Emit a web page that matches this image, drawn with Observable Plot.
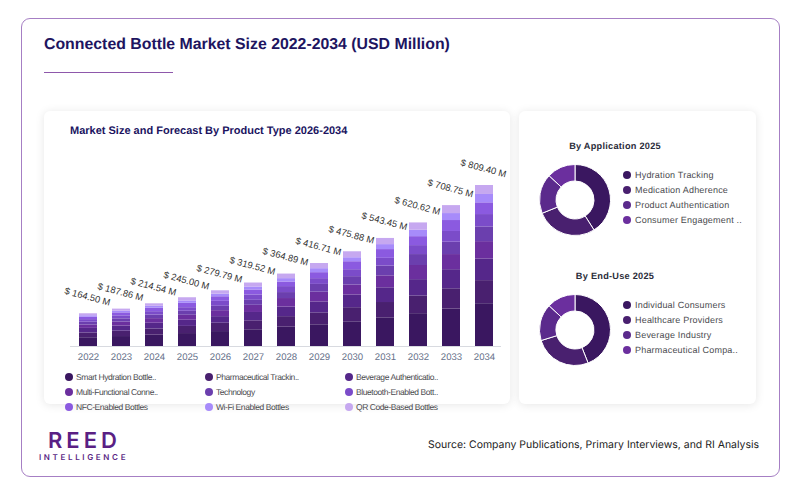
<!DOCTYPE html>
<html><head><meta charset="utf-8">
<script src="https://cdn.jsdelivr.net/npm/d3@7"></script>
<script src="https://cdn.jsdelivr.net/npm/@observablehq/plot@0.6"></script>
<style>
html,body{margin:0;padding:0;background:#fff;width:800px;height:493px;overflow:hidden}
#page{position:relative;width:800px;height:493px;font-family:"Liberation Sans",Arial,sans-serif;text-rendering:geometricPrecision}
#page>*{position:absolute}
.frame{left:20.5px;top:18px;width:757.5px;height:456.5px;border:1px solid #a67fc4;border-radius:9px}
.title{left:44px;top:35px;font-size:15.85px;font-weight:700;color:#20145f;white-space:nowrap;line-height:20px}
.rule{left:44px;top:71.5px;width:129px;height:1.2px;background:#8e58ab}
.card{background:#fff;border-radius:6px;box-shadow:0 1px 10px rgba(0,0,0,.10)}
.subtitle{left:70px;top:124.5px;font-size:11px;font-weight:700;color:#20145f;white-space:nowrap;line-height:13px}
.dtitle{font-size:9.2px;font-weight:700;color:#2b2d3a;white-space:nowrap;line-height:12px;letter-spacing:.25px;text-align:center;transform:translateX(-50%)}
.item{display:flex;align-items:center;white-space:nowrap;color:#4b4b4f}
.item i{display:block;border-radius:50%;flex:none}
.lg i{width:8px;height:8px;margin-right:3px}
.lg{font-size:8.5px;line-height:10px;letter-spacing:-.43px;transform:translateY(-5px)}
.dl i{width:8.5px;height:8.5px;margin-right:4px}
.dl{font-size:9px;line-height:12px;letter-spacing:.2px;transform:translateY(-6px)}
.brand{left:48px;top:433px;font-family:Inter,sans-serif;font-size:22px;font-weight:600;letter-spacing:4px;color:#5a1f84;line-height:16px}
.brand2{left:39px;top:451.5px;font-family:Inter,sans-serif;font-size:8px;font-weight:600;letter-spacing:2.65px;color:#5a1f84;line-height:10px}
.source{left:428px;top:438px;font-family:Inter,sans-serif;font-size:10.47px;color:#222;white-space:nowrap;line-height:14px}
svg{display:block;background:transparent!important}
svg text{text-rendering:geometricPrecision}
</style></head>
<body><div id="page">
<div class="frame"></div>
<div class="title">Connected Bottle Market Size 2022-2034 (USD Million)</div>
<div class="rule"></div>
<div class="card" style="left:44px;top:111px;width:466px;height:293px"></div>
<div class="card" style="left:519px;top:111px;width:237px;height:293px"></div>
<div class="subtitle">Market Size and Forecast By Product Type 2026-2034</div>
<div id="bars" style="left:44px;top:111px"></div>
<div class="brand">REED</div>
<div class="brand2">INTELLIGENCE</div>
<div class="source">Source: Company Publications, Primary Interviews, and RI Analysis</div>
</div>
<script>
const years = [2022,2023,2024,2025,2026,2027,2028,2029,2030,2031,2032,2033,2034];
const totals = [164.50,187.86,214.54,245.00,279.79,319.52,364.89,416.71,475.88,543.45,620.62,708.75,809.40];
const smartHydration = [44,50,57,65,75,84,97,109,124,144,165,188,215];
const pharmaTracking = [24,27,31,36,42,45,53,60,71,77,89,102,116];
const beverageAuth = [23,26,29,31,33,42,48,55,64,74,82,96,109];
const multiFunctional = [17,20,23,25,30,36,43,49,50,60,71,76,87];
const technology = [14,16,18,20,22,25,30,39,42,49,55,62,74];
const bluetooth = [13,15,17,18,25,27,30,29,35,39,45,54,62];
const nfc = [12,15,18,22,23,25,23,30,40,44,45,55,59];
const wifi = [7.5,8,9,12,13,15,17,20,20,25,32,35,42];
const qrCode = [10,10.86,12.54,16,17,20,23,26,30,31,37,40,45];
const seriesValues = [smartHydration,pharmaTracking,beverageAuth,multiFunctional,technology,bluetooth,nfc,wifi,qrCode];
const seriesNames = ["Smart Hydration Bottle..","Pharmaceutical Trackin..","Beverage Authenticatio..","Multi-Functional Conne..","Technology","Bluetooth-Enabled Bott..","NFC-Enabled Bottles","Wi-Fi Enabled Bottles","QR Code-Based Bottles"];
const palette = ["#3a1760","#49206f","#55278a","#6b2f9e","#6b3fae","#7b4cc9","#8b5ae0","#a78bfa","#c6a8f0"];

const applicationNames = ["Hydration Tracking","Medication Adherence","Product Authentication","Consumer Engagement .."];
const applicationShares = [41,27.9,18.1,13];
const endUseNames = ["Individual Consumers","Healthcare Providers","Beverage Industry","Pharmaceutical Compa.."];
const endUseShares = [44,26.2,16.8,13];
const donutColors = ["#3a1760","#49206f","#5b2a8c","#6b2f9e"];

const stacked = years.flatMap((year,i)=>seriesNames.map((name,s)=>({year,name,value:seriesValues[s][i]})));
const labels = years.map((year,i)=>({year,total:totals[i],text:"$ "+totals[i].toFixed(2)+" M"}));

document.getElementById("bars").append(Plot.plot({
  width:466,height:293,marginLeft:26,marginRight:9,marginTop:36,marginBottom:58,
  style:{background:"transparent",fontFamily:"'Liberation Sans',Arial,sans-serif"},
  x:{type:"band",domain:years,paddingInner:0.457,paddingOuter:0.228,align:0.5,label:null,tickFormat:d=>String(d)},
  y:{domain:[0,1000],axis:null,label:null},
  color:{domain:seriesNames,range:palette},
  marks:[
    Plot.barY(stacked,{x:"year",y:"value",fill:"name",order:null}),
    Plot.ruleY([0],{stroke:"#d8dae0",strokeWidth:1}),
    Plot.axisX({tickSize:0,tickPadding:7,fontSize:9.6,fill:"#66708a",label:null,tickFormat:d=>String(d)}),
    Plot.text(labels,{x:"year",y:"total",text:"text",rotate:15,dy:-17,dx:-1,fontSize:9.4,fill:"#333"})
  ]
}));

const page=document.getElementById("page");
function item(cls,left,top,color,text){
  const d=document.createElement("div");d.className="item "+cls;
  d.style.left=left+"px";d.style.top=top+"px";
  d.innerHTML=`<i style="background:${color}"></i><span></span>`;
  d.querySelector("span").textContent=text;page.append(d);
}
seriesNames.forEach((n,i)=>item("lg",65+140*(i%3),377+15*Math.floor(i/3),palette[i],n));

function donut(names,shares,cy,titleText,titleX){
  const R=35.5,r=19,size=76;
  const rows=names.map((name,i)=>({name,share:shares[i]}));
  const arcMark=(index,scales,values,dims)=>{
    const g=d3.create("svg:g").attr("transform",`translate(${dims.width/2},${dims.height/2})`);
    const pie=d3.pie().sort(null).value(d=>d.share)(rows);
    g.selectAll("path").data(pie).join("path")
      .attr("d",d3.arc().innerRadius(r).outerRadius(R))
      .attr("fill",d=>scales.color(d.data.name))
      .attr("stroke","#fff").attr("stroke-width",1);
    return g.node();
  };
  const plot=Plot.plot({width:size,height:size,margin:0,axis:null,
    style:{background:"transparent"},
    x:{domain:[0,1]},y:{domain:[0,1]},
    color:{domain:names,range:donutColors},
    marks:[Plot.dot(rows,{x:()=>0.5,y:()=>0.5,r:0,fill:"name"}),arcMark]});
  const host=document.createElement("div");
  host.style.left=(575.3-size/2)+"px";host.style.top=(cy-size/2)+"px";
  host.append(plot);page.append(host);
  names.forEach((n,i)=>item("dl",622.5,cy-25.3+15*i,donutColors[i],n));
  const t=document.createElement("div");t.className="dtitle";t.textContent=titleText;
  t.style.left=titleX+"px";t.style.top=(cy-60.3)+"px";page.append(t);
}
donut(applicationNames,applicationShares,200.3,"By Application 2025",615);
donut(endUseNames,endUseShares,330.3,"By End-Use 2025",615);
</script>
</body></html>
